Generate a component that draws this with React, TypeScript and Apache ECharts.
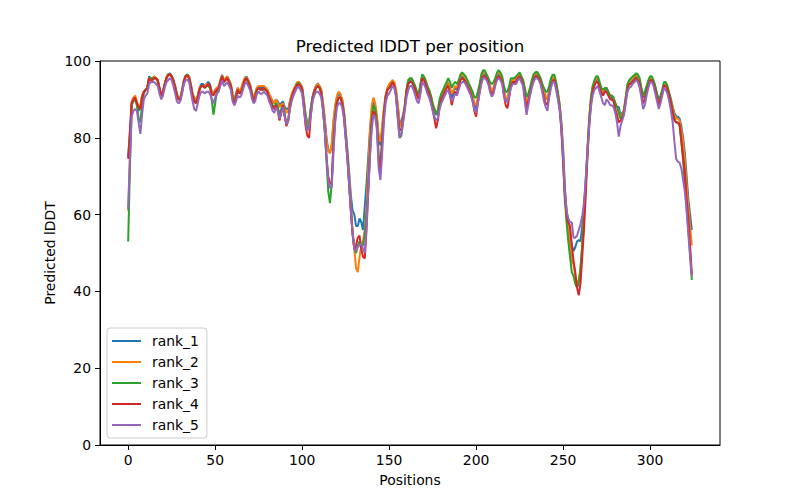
import React, { useEffect, useRef } from "react";
import * as echarts from "echarts";

const seriesNames = ["rank_1", "rank_2", "rank_3", "rank_4", "rank_5"];
const xTicks = [0, 50, 100, 150, 200, 250, 300];

const rank1 = [
  75, 82, 89, 90, 90.5, 89, 87, 88, 91, 92,
  92.5, 93, 96, 95.5, 95.5, 96, 95.5, 95, 93, 91,
  92, 94, 95.5, 96.5, 96.8, 96, 95, 93.5, 91.5, 90,
  90.5, 92.5, 95, 96.2, 96.5, 96, 94, 91.5, 90, 89.5,
  91, 93, 94, 94, 93.5, 94, 94.6, 94, 92, 91.5,
  92.5, 93, 93, 95, 96.4, 94.8, 95.5, 96, 95, 94,
  91.5, 89.5, 91.5, 93, 91.8, 92.5, 94, 95.5, 96, 95,
  94, 92, 90.5, 91.5, 93, 93.5, 93, 93, 93.3, 93,
  92.5, 91, 90.5, 89.5, 89, 90, 89.5, 88.5, 89, 89.5,
  88, 87.5, 87.5, 89.5, 91, 92, 93, 94, 94.6, 94,
  93.3, 90, 86, 84, 84, 88, 90.7, 92.5, 93.5, 94.2,
  93.5, 92.5, 89, 85, 80, 77, 76, 78, 84, 88,
  90.5, 91.6, 91, 90, 87, 82, 77, 71, 65, 61,
  60, 57, 57, 59, 58, 56, 62, 68, 75, 82,
  87, 89.5, 88, 85, 80, 78, 82, 87, 91, 92.5,
  93.3, 94, 95, 94, 92, 88, 84, 84, 86, 88,
  92, 94.5, 95, 95, 94, 93, 91.5, 90.5, 93, 96,
  95.5, 94.5, 93, 92, 90.5, 88.5, 87, 86, 86.5, 89,
  90.5, 91.5, 92.5, 93.5, 94, 92, 90.5, 92, 93, 92.5,
  94, 95.5, 96, 95.5, 95, 94, 93, 92, 90.5, 88.5,
  87.5, 90, 92.5, 95, 96.5, 96.5, 96, 95, 93, 91.5,
  92.5, 94.5, 96, 96.5, 96, 95, 92, 90, 89.5, 92,
  94.5, 95, 95, 95, 96, 96.3, 95.5, 94.5, 91.5, 88.5,
  90, 92, 94, 95.5, 96.3, 96.6, 96, 95, 93.5, 92,
  90.5, 90, 92, 94.5, 95.5, 95.5, 93.5, 91, 88.5, 84,
  77, 67, 61, 58, 55, 52, 50.5, 51.5, 53, 53.4,
  53, 57, 62, 69, 77, 84, 89, 92.5, 94, 95,
  95.5, 93.5, 92, 91.5, 92.5, 92.5, 91.5, 90.5, 90.5, 90,
  88.5, 88, 88, 86, 86.5, 87, 90, 93, 94.5, 94.5,
  95, 95.5, 96, 95.5, 94.5, 92.5, 90.5, 91, 92.5, 94,
  95.5, 95.5, 94.5, 93, 91, 89.5, 90.5, 92, 94, 93.8,
  93, 91.5, 90, 88, 86.5, 85.5, 85.5, 85, 83, 80,
  76, 70, 64, 60, 56,
];

const rank2 = [
  61, 76, 89.5, 90.5, 91, 89.5, 88, 88.5, 91, 92,
  92.5, 93, 95.5, 95.5, 95.5, 96, 95.5, 95, 93, 91.5,
  92, 94, 96, 96.5, 96.5, 96, 95, 93.5, 91.5, 90.5,
  90.5, 92.5, 95, 96, 96.3, 96, 94, 91.5, 90.5, 90,
  91, 93, 93.5, 93.5, 93.5, 94, 94, 93.5, 92, 91.5,
  92.5, 93, 93.5, 95, 96.2, 95, 95.5, 96, 95, 94,
  91.5, 89.5, 91.5, 93, 92, 93, 94.5, 95.5, 95.8, 95,
  94, 92, 90.5, 91.5, 93, 93.5, 93.5, 93.5, 93.5, 93,
  92.5, 91.5, 90.5, 89.5, 89, 90, 89, 88, 88.5, 89,
  87.5, 86.5, 87, 89.5, 91.5, 92.5, 93.5, 94.5, 94.6, 94,
  93, 89.5, 85.5, 83.5, 83.5, 87.5, 90.5, 92.5, 93.5, 94,
  93.5, 92.5, 89, 84.5, 79.5, 76.5, 76, 78.5, 84.5, 88.5,
  91, 92, 91.5, 90, 87, 82, 76, 70, 63, 56,
  51, 46, 45, 49, 52, 53, 56, 62, 72, 82,
  88.5, 90.5, 89, 86, 80, 79, 83, 88, 91, 93,
  94, 94.5, 95, 94.5, 92.5, 88.5, 84, 83, 85, 88,
  92.5, 95, 95.5, 95, 94, 93, 91.5, 91, 93.5, 96,
  95.5, 94.5, 93, 92, 91, 89, 87.5, 86.5, 87, 89.5,
  91, 92, 93, 94, 94.5, 93, 91.5, 92.5, 93.5, 93,
  94.5, 96, 96.5, 96, 95.5, 94.5, 93.5, 92.5, 91, 89,
  88.5, 90.5, 93, 95.5, 97, 97, 96.5, 95.5, 93.5, 92,
  93, 95, 96.5, 97, 96.5, 95.5, 92.5, 90.5, 90, 92.5,
  94.5, 95, 95, 95.5, 96, 96.5, 96, 95, 92, 89,
  90.5, 92.5, 94.5, 95.5, 96.5, 96.8, 96.3, 95.5, 94, 92.5,
  91, 90, 92, 94.5, 95.5, 96, 94, 91.5, 89, 84,
  77, 67, 61, 57, 52, 48, 47, 44, 42, 43,
  46, 52, 60, 68, 77, 85, 90, 93, 94.5, 95.5,
  95.5, 94, 92.5, 92, 93, 93, 92, 91, 91, 90.5,
  89, 88, 87, 85.5, 86, 87.5, 90.5, 93.5, 94.5, 95,
  95.5, 96, 96.3, 96, 95, 93, 91, 91.5, 93, 94.5,
  95.8, 95.5, 94.5, 93, 91, 89.5, 90.5, 92, 94, 94,
  93, 91.5, 90, 88, 86, 85, 85, 84.5, 82, 79,
  74, 68, 62, 57, 52,
];

const rank3 = [
  53, 72, 88.5, 89.5, 90, 88.5, 85, 84, 89, 91.5,
  92.5, 93, 95.5, 95.5, 95.5, 95.5, 95.5, 94.5, 92.5, 91,
  92, 94, 95.5, 96.5, 96.5, 96, 94.5, 93, 91, 90,
  90, 92, 94.5, 96, 96.3, 95.5, 93.5, 91, 89.5, 89,
  90.5, 92.5, 93.5, 93.5, 93, 93.5, 93.5, 93, 90, 86,
  89, 92, 93, 94.5, 96, 94.5, 95, 95.5, 94.5, 93.5,
  90.5, 89, 91, 92.5, 91.5, 92, 93.5, 95, 95.5, 94.5,
  93.5, 91.5, 89.5, 90.5, 92.5, 93, 92.5, 92.5, 92.5, 92.5,
  92, 90.5, 89.5, 88.5, 88, 89, 88, 86, 87.5, 88.5,
  86, 83.5, 84.5, 88, 90.5, 92, 93, 94, 94.3, 93.5,
  92.5, 88.5, 84.5, 82.5, 83, 87.5, 90.5, 92, 93, 93.5,
  93, 91.5, 87.5, 82, 74, 66, 63, 68, 79, 86,
  89.5, 90.5, 90.5, 89, 86, 80.5, 75, 68, 61, 55,
  51, 50, 52, 53, 52, 52, 55, 60, 67, 77,
  85, 88.5, 87.5, 84, 75, 73, 80, 86, 90.5, 92.5,
  93, 93.5, 94.5, 93.5, 91, 85, 80, 80.5, 84, 88.5,
  92.5, 95, 95.5, 95.5, 94.5, 93.5, 92, 91.5, 94, 96.5,
  96, 95, 93.5, 92.5, 91, 89, 87.5, 86.5, 87, 90,
  91.5, 92.5, 93.5, 94.5, 95.5, 94.5, 93, 94, 94.6, 94,
  95, 96.5, 97, 96.5, 96, 95, 94, 93, 92, 90.5,
  90.5, 92, 94, 96.5, 97.6, 97.5, 96.5, 95.5, 94.5, 94,
  94.5, 95.5, 97, 97.6, 97, 96, 93.5, 92, 92, 93.5,
  95.5, 95.5, 95.5, 96, 96.5, 97, 96, 95, 93, 90.7,
  91.5, 93, 95, 96.5, 97, 97.2, 96.5, 95.5, 94, 93,
  92, 92, 93.5, 95.5, 96.4, 96.4, 94.5, 92, 88.5, 83,
  74, 64, 58, 53, 49, 45, 44, 42, 41, 42,
  46, 52, 59, 67, 76, 85, 90.5, 93.5, 95, 96,
  96, 94.5, 93, 92.5, 93, 93, 92, 91, 91, 90.5,
  89, 88, 86.5, 85, 85.5, 87, 90.5, 94, 95, 95.5,
  96, 96.3, 96.8, 96.5, 95.5, 93, 91, 92, 93.5, 95,
  96, 96, 95, 93.5, 91.5, 90, 91, 92.5, 94.5, 94.5,
  93.5, 91.5, 89.5, 87, 85, 84, 84, 83, 79, 74,
  68, 62, 56, 50, 43,
];

const rank4 = [
  74.5, 81, 89, 90, 90.5, 89, 88, 87.5, 90.5, 92,
  92.5, 93, 95.5, 95, 95, 95.5, 95.5, 95, 93, 91,
  92, 94, 95.5, 96.3, 96.5, 96, 95, 93, 91, 90,
  90, 92, 94.5, 96, 96.2, 95.5, 93.5, 91, 89.5, 89,
  90.5, 92.5, 93.5, 93.5, 93, 93.5, 94, 93.5, 91.5, 91,
  92, 92.5, 93, 94.5, 96, 94.5, 95, 95.5, 94.5, 93.5,
  90.5, 88.5, 90.5, 92.5, 91.5, 92, 93.5, 95, 95.5, 94.5,
  93.5, 91.5, 89.5, 90.5, 92.5, 93, 92.5, 92.5, 93, 92.5,
  92, 90.5, 89.5, 88, 87.5, 88.5, 87, 84.5, 86.5, 88.5,
  85.5, 83, 84.5, 88.5, 90.5, 92, 93, 93.5, 94, 93.5,
  92.5, 88, 83, 80.5, 80, 86, 90, 92, 93, 93.5,
  93, 91.5, 87.5, 82, 75, 70, 68, 68.5, 78, 85,
  89, 90.5, 90.5, 89, 86, 80.5, 75, 68, 61, 55,
  51, 52, 54, 54.5, 51, 49, 48.6, 56, 66, 76,
  84, 87, 86, 83, 74, 71, 79, 86, 90.5, 92.5,
  93, 93.5, 94.5, 93.5, 91, 86, 82, 82, 85, 88,
  92, 94, 94.5, 94.5, 93.5, 92.5, 91, 90, 92.5, 95.5,
  95, 94, 92.5, 91.5, 89.5, 87.5, 85, 82.5, 84.5, 88,
  90, 91, 92, 93, 93.5, 91, 88.5, 90.5, 92, 91.5,
  93.5, 95, 95.5, 95, 94.5, 93.5, 92.5, 91.5, 89.5, 87,
  85.5, 89, 92, 94.5, 96, 96, 95.5, 94.5, 92.5, 91,
  92, 94, 95.5, 96, 95.5, 94.5, 91, 88.5, 87.7, 90.5,
  93.5, 94.5, 94.5, 94.5, 95.5, 96, 95, 94, 90.5, 87.5,
  89.5, 91.5, 93.5, 95, 96, 96, 95.5, 94.5, 92.5, 90.5,
  89, 88.5, 91, 93.5, 95, 95, 93, 90.5, 87.5, 82,
  74, 65, 60, 58, 57, 52, 48, 45, 41, 39,
  42, 49, 56, 65, 75, 83, 89, 92, 93.5, 94.5,
  94.5, 93, 91.5, 91, 92, 92, 91, 90, 90, 89.5,
  87.5, 86, 84, 84.5, 85, 86.5, 89.5, 92.5, 94, 94,
  94.5, 95, 95.5, 95, 94, 91.5, 89, 90, 92, 93.5,
  95, 95, 94, 92.5, 90.5, 88.5, 90, 91.5, 93.5, 93.5,
  92.5, 91, 89, 86.5, 84.5, 84, 84, 83.5, 79, 75,
  71, 64, 59, 52, 44.5,
];

const rank5 = [
  61.5, 74, 85.5, 87, 87.5, 87, 84, 81, 86, 90,
  91, 91.5, 94, 94.5, 94.5, 94.5, 94, 93.5, 91.5, 90,
  91, 93, 94.5, 95, 95.5, 95, 93.5, 91.5, 89.5, 89,
  89.5, 91.5, 94, 95, 95.2, 94.5, 92, 89.5, 87.5, 87,
  89, 91, 92, 92, 91.5, 92, 92, 91.5, 90, 89,
  90.5, 91.5, 92, 93.5, 95, 93.5, 94, 94.5, 93.5, 92.5,
  89.5, 88.5, 89.5, 91, 90.5, 91, 92.5, 94, 94.5, 93.5,
  92.5, 90.5, 89, 89.5, 91.5, 92, 91.5, 91.5, 92, 91.5,
  91, 89.5, 88.5, 87, 86.5, 88, 87, 85, 86.5, 88,
  85.5, 83.5, 84.5, 87.5, 89.5, 91, 92, 93, 93.3, 92.5,
  91.5, 87.5, 83.5, 82, 82.5, 86, 89.5, 91, 92, 92,
  91.5, 90.5, 87, 82, 75, 69, 67, 67, 76, 84,
  88, 89, 89, 88, 85, 80, 74.5, 68, 61, 55,
  51, 50.5, 51.6, 52, 52.5, 51, 50, 57, 66, 75,
  82, 86, 85.5, 82, 72, 69, 76, 84, 89, 91,
  91.5, 92.5, 93.5, 93, 90.5, 85, 80, 81, 84, 87,
  90.5, 92.5, 93.5, 93.5, 92.5, 91, 89.5, 89, 91.5, 94.5,
  94, 93, 91.5, 90.5, 89, 87, 85.5, 84.6, 85, 87.5,
  89, 90, 91, 92, 92.5, 91, 89.5, 90.5, 91.5, 91,
  92.5, 94, 94.5, 94.5, 94, 93, 92, 91, 89.5, 87.5,
  86.5, 89, 91.5, 94, 95.5, 95.5, 95, 94, 92, 90.7,
  91.5, 93.5, 95, 95.5, 95, 94, 91, 89.5, 89.4, 91,
  93, 94, 94, 94, 95, 95.5, 94.5, 93.5, 89.5, 86,
  88.5, 91, 93, 94.5, 95.5, 95.5, 95, 94, 92, 89.5,
  88, 87, 90.5, 93, 94.5, 94.5, 92.5, 90, 87.5, 83,
  76, 66, 61, 59, 58, 58, 54, 54, 54.5, 56,
  57.5, 59.5, 63, 69, 76, 83, 88, 91, 92.5, 93,
  93.5, 92, 90.5, 89, 88.5, 90, 89.5, 88.5, 88.5, 88,
  86.5, 84, 80.3, 83, 84.5, 86, 89, 92, 93, 93.3,
  94, 94.5, 95, 94.5, 93, 90.5, 87.5, 88.5, 91, 93,
  94.5, 94.5, 93.5, 91.5, 89.5, 87.5, 89, 91, 93, 92.5,
  91.5, 89.5, 87, 84, 79, 74.5, 73.8, 73.5, 72, 69,
  66, 61, 55, 49, 44,
];

const seriesValues = [rank1, rank2, rank3, rank4, rank5];
const colors = ["#1f77b4", "#ff7f0e", "#2ca02c", "#d62728", "#9467bd"];

const FONT = "DejaVu Sans";

export default function App() {
  const ref = useRef<HTMLDivElement>(null);
  useEffect(() => {
    if (!ref.current) return;
    const chart = echarts.init(ref.current, null, { renderer: "svg" });
    chart.setOption({
      animation: false,
      backgroundColor: "#ffffff",
      textStyle: { fontFamily: FONT },
      grid: {
        left: 100,
        top: 61,
        width: 620,
        height: 384,
        show: true,
        borderColor: "#000",
        borderWidth: 1,
        backgroundColor: "transparent",
      },
      xAxis: {
        type: "value",
        min: -16.2,
        max: 340.2,
        splitLine: { show: false },
        axisLine: { show: true, onZero: false, lineStyle: { color: "#000", width: 1 } },
        axisTick: { show: true, customValues: xTicks, length: 5, lineStyle: { color: "#000", width: 1 } },
        axisLabel: { customValues: xTicks, margin: 8, fontSize: 13.9, color: "#000", fontFamily: FONT },
      },
      yAxis: {
        type: "value",
        min: 0,
        max: 100,
        interval: 20,
        splitLine: { show: false },
        axisLine: { show: true, onZero: false, lineStyle: { color: "#000", width: 1 } },
        axisTick: { show: true, length: 5, lineStyle: { color: "#000", width: 1 } },
        axisLabel: { margin: 9, fontSize: 13.9, color: "#000", fontFamily: FONT },
      },
      legend: {
        data: seriesNames,
        orient: "vertical",
        left: 107,
        top: 328,
        icon: "rect",
        itemWidth: 29,
        itemHeight: 2,
        itemGap: 7,
        padding: [6, 8, 6, 5],
        backgroundColor: "rgba(255,255,255,0.8)",
        borderColor: "#cccccc",
        borderWidth: 1,
        borderRadius: 3,
        textStyle: { fontSize: 13.9, color: "#000", fontFamily: FONT, padding: [0, 0, 0, 6] },
      },
      graphic: [
        {
          type: "text",
          x: 410,
          y: 46,
          style: { text: "Predicted lDDT per position", fontSize: 16.7, fontFamily: FONT, fill: "#000", align: "center", verticalAlign: "middle" },
        },
        {
          type: "text",
          x: 410,
          y: 480,
          style: { text: "Positions", fontSize: 13.9, fontFamily: FONT, fill: "#000", align: "center", verticalAlign: "middle" },
        },
        {
          type: "text",
          x: 50,
          y: 253,
          rotation: Math.PI / 2,
          style: { text: "Predicted lDDT", fontSize: 13.9, fontFamily: FONT, fill: "#000", align: "center", verticalAlign: "middle" },
        },
      ],
      series: seriesValues.map((vals, k) => ({
        name: seriesNames[k],
        type: "line",
        showSymbol: false,
        symbol: "none",
        data: vals.map((v, i) => [i, v]),
        lineStyle: { color: colors[k], width: 2 },
        itemStyle: { color: colors[k] },
        emphasis: { disabled: true },
      })),
    });
    return () => chart.dispose();
  }, []);
  return <div ref={ref} style={{ position: "absolute", left: 0, top: 0, width: 800, height: 500 }} />;
}
